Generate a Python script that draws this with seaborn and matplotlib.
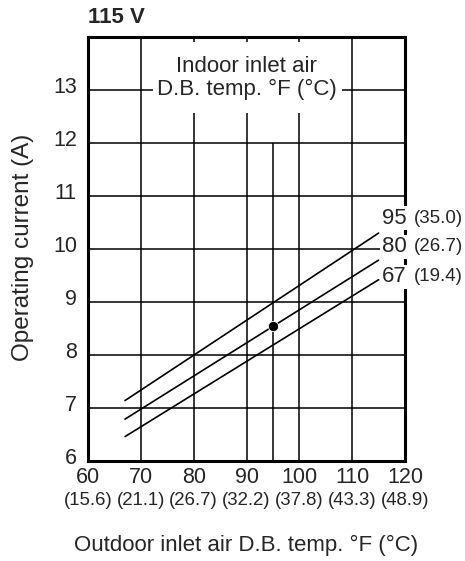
import numpy as np
import pandas as pd
import matplotlib
matplotlib.use("Agg")
import matplotlib.pyplot as plt
import matplotlib.transforms as mtransforms
from matplotlib.patches import Rectangle
import seaborn as sns

# ------------------------
# data
# ------------------------
indoor_f = ["95", "80", "67"]
indoor_c = ["(35.0)", "(26.7)", "(19.4)"]
x_start = [67, 67, 67]
x_end = [115, 115, 115]
amp_start = [7.14, 6.79, 6.46]
amp_end = [10.30, 9.79, 9.42]
label_y = [10.58, 10.04, 9.48]

x_ticks = [60, 70, 80, 90, 100, 110, 120]
x_ticks_c = ["(15.6)", "(21.1)", "(26.7)", "(32.2)", "(37.8)", "(43.3)", "(48.9)"]
y_ticks = [6, 7, 8, 9, 10, 11, 12, 13]

rated_x = [95]
rated_y = [8.54]

rows = []
for f, xs, xe, ys, ye in zip(indoor_f, x_start, x_end, amp_start, amp_end):
    rows.append({"indoor": f, "outdoor": xs, "current": ys})
    rows.append({"indoor": f, "outdoor": xe, "current": ye})
dta = pd.DataFrame(rows)

# ------------------------
# plot
# ------------------------
sns.set_style("white")
plt.rcParams["font.family"] = ["Liberation Sans", "DejaVu Sans"]

fig = plt.figure(figsize=(4.65, 5.61), dpi=100)
ax = fig.add_axes([88 / 465, 100 / 561, 317 / 465, 424 / 561])

ax.set_xlim(60, 120)
ax.set_ylim(6, 14)

# grid
for xv in x_ticks[1:-1]:
    ax.axvline(xv, color="black", lw=1.1, zorder=0.5)
for yv in y_ticks[1:]:
    ax.axhline(yv, color="black", lw=1.1, zorder=0.5)
ax.vlines(95, 6, 12, color="black", lw=1.1, zorder=0.5)

# white box behind indoor caption
ax.add_patch(Rectangle((72.3, 12.57), 35.8, 1.33, fc="white", ec="none", zorder=1))
ax.text(90, 13.22, "Indoor inlet air\nD.B. temp. °F (°C)", ha="center", va="center",
        fontsize=16, linespacing=1.1, zorder=3)

sns.lineplot(data=dta, x="outdoor", y="current", units="indoor", estimator=None,
             color="black", lw=1.2, ax=ax, zorder=2)
sns.scatterplot(x=rated_x, y=rated_y, color="black", s=55, ax=ax, zorder=4)

for f, c, yl in zip(indoor_f, indoor_c, label_y):
    ax.text(115.6, yl, f, ha="left", va="center", fontsize=16, zorder=5, clip_on=False,
            bbox=dict(fc="white", ec="none", pad=1.2))
    ax.text(121.6, yl, c, ha="left", va="center", fontsize=13.5, zorder=5, clip_on=False)

ax.set_xticks(x_ticks)
ax.set_xticklabels([str(v) for v in x_ticks])
ax.set_yticks(y_ticks)
ax.tick_params(axis="both", length=0, labelsize=15.5)
ax.tick_params(axis="x", pad=4)
ax.tick_params(axis="y", pad=8)

# y tick labels sit a little above their grid lines in the original
shift = mtransforms.ScaledTranslation(0, 5 / 100, fig.dpi_scale_trans)
for lab in ax.get_yticklabels():
    lab.set_transform(lab.get_transform() + shift)

for xv, lab in zip(x_ticks, x_ticks_c):
    ax.text(xv, -0.093, lab, transform=ax.get_xaxis_transform(), ha="center", va="center",
            fontsize=13.4, clip_on=False)

for sp in ax.spines.values():
    sp.set_linewidth(2.2)
    sp.set_color("black")
    sp.set_zorder(2.5)

ax.set_xlabel("Outdoor inlet air D.B. temp. °F (°C)", fontsize=16)
ax.xaxis.set_label_coords(0.498, -0.198)
ax.xaxis.label.set_va("center")
ax.set_ylabel("Operating current (A)", fontsize=17.5)
ax.yaxis.set_label_coords(-0.205, 0.505)
ax.yaxis.label.set_va("center")
ax.set_title("115 V", fontsize=16, fontweight="bold", loc="left", pad=10)

fig.savefig("out.png", dpi=100)
